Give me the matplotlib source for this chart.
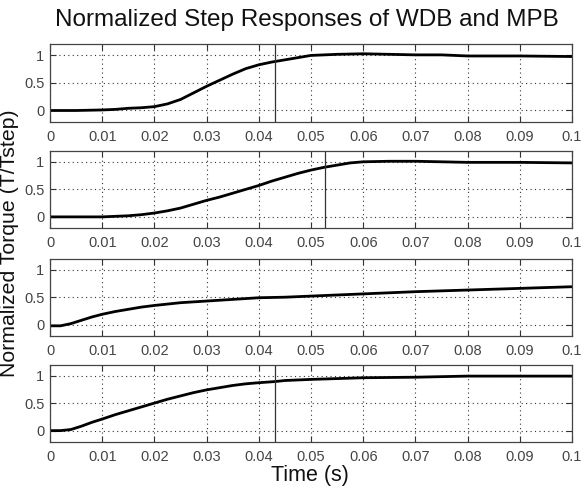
import matplotlib
matplotlib.use("Agg")
import matplotlib.pyplot as plt

plt.rcParams['font.family'] = ['Liberation Sans', 'DejaVu Sans']

# Data
t1 = [0, 0.005, 0.01, 0.0125, 0.015, 0.0175, 0.02, 0.0225, 0.025, 0.0275, 0.03, 0.0325, 0.035,
      0.0375, 0.04, 0.0425, 0.045, 0.0475, 0.05, 0.055, 0.06, 0.065, 0.07, 0.075, 0.08, 0.09, 0.1]
y1 = [0, 0, 0.01, 0.02, 0.04, 0.05, 0.07, 0.12, 0.20, 0.32, 0.44, 0.55, 0.66,
      0.76, 0.83, 0.88, 0.92, 0.96, 1.0, 1.02, 1.03, 1.02, 1.01, 1.01, 0.99, 0.99, 0.98]

t2 = [0, 0.005, 0.01, 0.0125, 0.015, 0.0175, 0.02, 0.0225, 0.025, 0.0275, 0.03, 0.0325, 0.035,
      0.0375, 0.04, 0.0425, 0.045, 0.0475, 0.05, 0.0525, 0.055, 0.0575, 0.06, 0.065, 0.07, 0.08, 0.09, 0.1]
y2 = [0, 0, 0, 0.01, 0.02, 0.04, 0.07, 0.11, 0.16, 0.23, 0.30, 0.36, 0.43,
      0.50, 0.57, 0.65, 0.72, 0.79, 0.85, 0.90, 0.94, 0.98, 1.0, 1.01, 1.01, 0.99, 0.99, 0.98]

t3 = [0, 0.002, 0.004, 0.006, 0.008, 0.01, 0.0125, 0.015, 0.0175, 0.02, 0.025, 0.03, 0.035,
      0.04, 0.045, 0.05, 0.06, 0.07, 0.08, 0.09, 0.1]
y3 = [-0.02, -0.02, 0.02, 0.08, 0.14, 0.19, 0.24, 0.28, 0.32, 0.35, 0.40, 0.43, 0.46,
      0.49, 0.50, 0.52, 0.56, 0.60, 0.63, 0.66, 0.69]

t4 = [0, 0.002, 0.004, 0.006, 0.008, 0.01, 0.0125, 0.015, 0.0175, 0.02, 0.0225, 0.025, 0.0275,
      0.03, 0.0325, 0.035, 0.0375, 0.04, 0.043, 0.045, 0.05, 0.06, 0.07, 0.08, 0.09, 0.1]
y4 = [0, 0, 0.02, 0.08, 0.15, 0.21, 0.29, 0.36, 0.43, 0.50, 0.57, 0.63, 0.69,
      0.74, 0.78, 0.82, 0.85, 0.87, 0.89, 0.91, 0.93, 0.96, 0.97, 0.99, 0.99, 0.99]

vlines = [0.0431, 0.0526, None, 0.0431]

xticks = [0, 0.01, 0.02, 0.03, 0.04, 0.05, 0.06, 0.07, 0.08, 0.09, 0.1]
xticklabels = ['0', '0.01', '0.02', '0.03', '0.04', '0.05', '0.06', '0.07', '0.08', '0.09', '0.1']
yticks = [0, 0.5, 1]
yticklabels = ['0', '0.5', '1']

series = [(t1, y1), (t2, y2), (t3, y3), (t4, y4)]

fig = plt.figure(figsize=(5.83, 4.88), dpi=100)
bottoms = [0.751, 0.533, 0.312, 0.095]
h = 0.158
for i, ((t, y), b) in enumerate(zip(series, bottoms)):
    ax = fig.add_axes([0.0858, b, 0.8954, h])
    ax.plot(t, y, color='black', lw=2.0)
    if vlines[i] is not None:
        ax.axvline(vlines[i], color='#333333', lw=0.9)
    ax.set_xlim(0, 0.1)
    ax.set_ylim(-0.2, 1.2)
    ax.set_xticks(xticks)
    ax.set_xticklabels(xticklabels)
    ax.set_yticks(yticks)
    ax.set_yticklabels(yticklabels)
    ax.grid(True, linestyle=(0, (1, 3)), color='#333333', lw=0.8)
    ax.tick_params(direction='in', length=4, top=True, right=True,
                   labelsize=10.5, colors='#333333', labelcolor='#444444', pad=6)
    ax.tick_params(axis='y', pad=4)
    for s in ax.spines.values():
        s.set_color('#444444')
        s.set_linewidth(0.9)

fig.text(0.527, 0.958, 'Normalized Step Responses of WDB and MPB', ha='center', va='center',
         fontsize=17.5, color='#111111')
fig.text(0.017, 0.502, 'Normalized Torque (T/Tstep)', ha='center', va='center',
         rotation=90, fontsize=15.3, color='#111111')
fig.text(0.531, 0.026, 'Time (s)', ha='center', va='center', fontsize=15.5, color='#111111')

fig.savefig('out.png', dpi=100)
